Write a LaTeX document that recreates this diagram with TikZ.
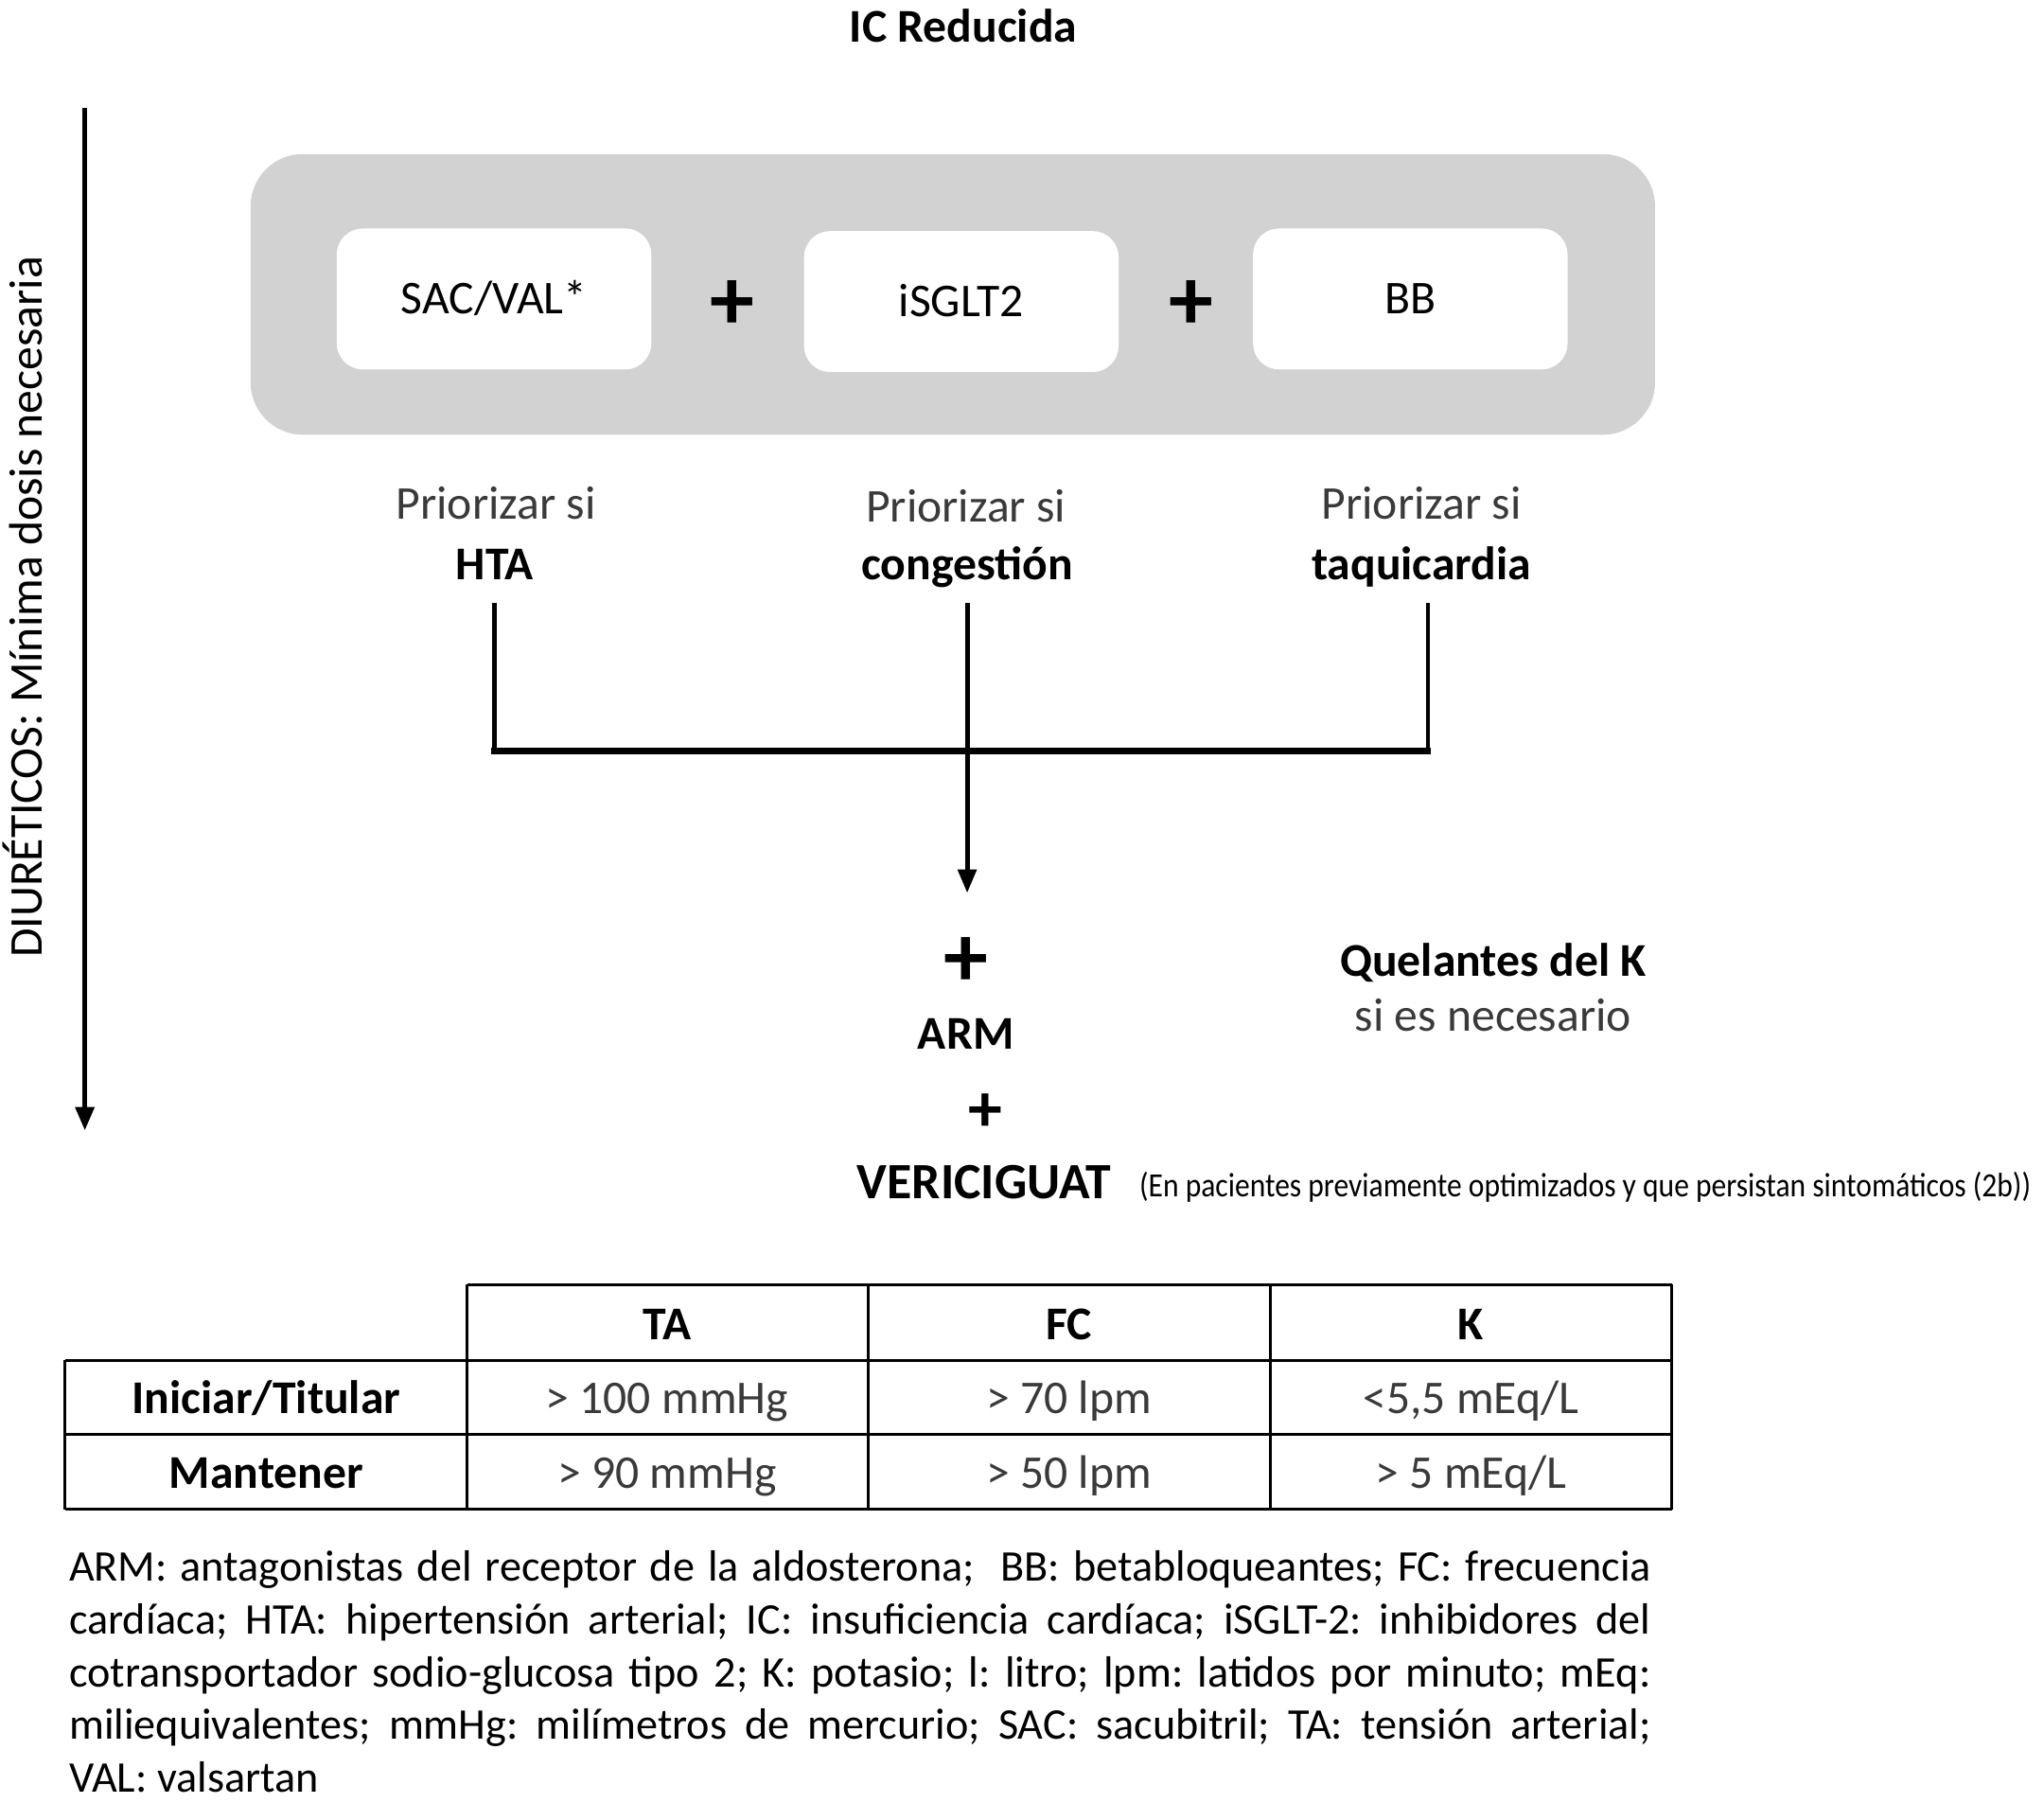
\documentclass[tikz,border=0pt]{standalone}
\usepackage{fontspec}
\usepackage{graphicx}
\setmainfont{Carlito}
\usetikzlibrary{arrows.meta}
\definecolor{boxgray}{HTML}{D3D2D2}
\definecolor{txtgray}{HTML}{3A3A3A}
\frenchspacing
\begin{document}
\begin{tikzpicture}[x=0.5pt,y=-0.5pt,
  every node/.style={inner sep=0pt, outer sep=0pt},
  lbl/.style={anchor=base, font=\fontsize{18}{21}\selectfont},
  blbl/.style={anchor=base, font=\fontsize{18}{21}\selectfont\bfseries},
  glbl/.style={anchor=base, font=\fontsize{18}{21}\selectfont, text=txtgray},
  plussign/.style={anchor=base, font=\fontsize{34}{34}\selectfont\bfseries},
  drugbox/.style={fill=white, rounded corners=10pt, minimum width=120.5pt, minimum height=54pt,
    font=\fontsize{18}{21}\selectfont, text height=11.6pt, text depth=0pt},
  panelbox/.style={fill=boxgray, rounded corners=20pt, minimum width=538pt, minimum height=107.5pt},
  conn/.style={line width=1.75pt},
  hconn/.style={line width=2.5pt, line cap=rect},
  bigarrow/.style={line width=2pt, -{Triangle[width=7pt,length=9pt]}},
  tbl/.style={line width=1.1pt},
  foot/.style={anchor=base west, font=\fontsize{16.75}{20}\selectfont\frenchspacing}
]
\useasboundingbox (0,0) rectangle (1566,1380.4);

% title
\node[blbl] (title) at (738,32) {IC Reducida};

% left arrow and label
\coordinate (ltop) at (65,83);
\coordinate (lbot) at (65,866);
\draw[bigarrow] (ltop) -- (lbot);
\node[lbl, rotate=90] (diur) at (32.5,465) {DIURÉTICOS: Mínima dosis necesaria};

% panel
\node[panelbox] (panel) at (730,225.5) {};
\node[drugbox] (sac) at (378.5,229) {SAC/VAL*};
\node[drugbox] (isglt) at (736.5,231) {iSGLT2};
\node[drugbox] (bb) at (1080.5,229) {BB};
\node[plussign] (p1) at (561,253) {+};
\node[plussign] (p2) at (913,253) {+};

% priorizar labels
\node[glbl] (pr1) at (380,398) {Priorizar si};
\node[glbl] (pr2) at (740,400) {Priorizar si};
\node[glbl] (pr3) at (1089,398) {Priorizar si};
\node[blbl] (hta) at (379,444) {HTA};
\node[blbl] (cong) at (741,444) {congestión};
\node[blbl] (taq) at (1089,444) {taquicardia};

% connectors
\coordinate (htaS) at (379,462);
\coordinate (congS) at (741,462);
\coordinate (taqS) at (1094,462);
\coordinate (jL) at (379,575);
\coordinate (jR) at (1094,575);
\coordinate (armtip) at (741,684);
\draw[conn] (htaS) -- (jL);
\draw[conn] (taqS) -- (jR);
\draw[hconn] (jL) -- (jR);
\draw[conn, -{Triangle[width=7pt,length=9pt]}] (congS) -- (armtip);

% lower part
\node[plussign] (p3) at (740,756) {+};
\node[blbl] (arm) at (740,804) {ARM};
\node[plussign, font=\fontsize{26}{26}\selectfont\bfseries] (p4) at (755,867) {+};
\node[anchor=base, font=\fontsize{19.5}{22}\selectfont\bfseries] (veri) at (754,918) {VERICIGUAT};
\node[anchor=base west, font=\fontsize{13}{14}\selectfont] (veripar) at (873,917)
  {\resizebox{341.5pt}{\height}{(En pacientes previamente optimizados y que persistan sintomáticos (2b))}};
\node[blbl] (quel) at (1144,748) {Quelantes del K};
\node[glbl] (sinec) at (1144,790) {si es necesario};

% table
\draw[tbl] (358,984) -- (1281,984);
\draw[tbl] (50,1042) -- (1281,1042);
\draw[tbl] (50,1099) -- (1281,1099);
\draw[tbl] (50,1156) -- (1281,1156);
\draw[tbl] (50,1042) -- (50,1156);
\draw[tbl] (358,984) -- (358,1156);
\draw[tbl] (665,984) -- (665,1156);
\draw[tbl] (973,984) -- (973,1156);
\draw[tbl] (1281,984) -- (1281,1156);

\node[blbl] (hTA) at (511,1026) {TA};
\node[blbl] (hFC) at (819,1026) {FC};
\node[blbl] (hK) at (1127,1026) {K};
\node[blbl] (r1) at (204,1083) {Iniciar/Titular};
\node[glbl] (r1a) at (511,1083) {> 100 mmHg};
\node[glbl] (r1b) at (819,1083) {> 70 lpm};
\node[glbl] (r1c) at (1127,1083) {<5,5 mEq/L};
\node[blbl] (r2) at (204,1140) {Mantener};
\node[glbl] (r2a) at (511,1140) {> 90 mmHg};
\node[glbl] (r2b) at (819,1140) {> 50 lpm};
\node[glbl] (r2c) at (1127,1140) {> 5 mEq/L};

% footnote
\node[foot] (f1) at (53,1211) {\makebox[606pt][s]{ARM: antagonistas del receptor de la aldosterona;\ \ BB: betabloqueantes; FC: frecuencia}};
\node[foot] (f2) at (53,1251.5) {\makebox[606pt][s]{cardíaca; HTA: hipertensión arterial; IC: insuficiencia cardíaca; iSGLT-2: inhibidores del}};
\node[foot] (f3) at (53,1292) {\makebox[606pt][s]{cotransportador sodio-glucosa tipo 2; K: potasio; l: litro; lpm: latidos por minuto; mEq:}};
\node[foot] (f4) at (53,1332.5) {\makebox[606pt][s]{miliequivalentes; mmHg: milímetros de mercurio; SAC: sacubitril; TA: tensión arterial;}};
\node[foot] (f5) at (53,1373) {VAL: valsartan};
\end{tikzpicture}
\end{document}
